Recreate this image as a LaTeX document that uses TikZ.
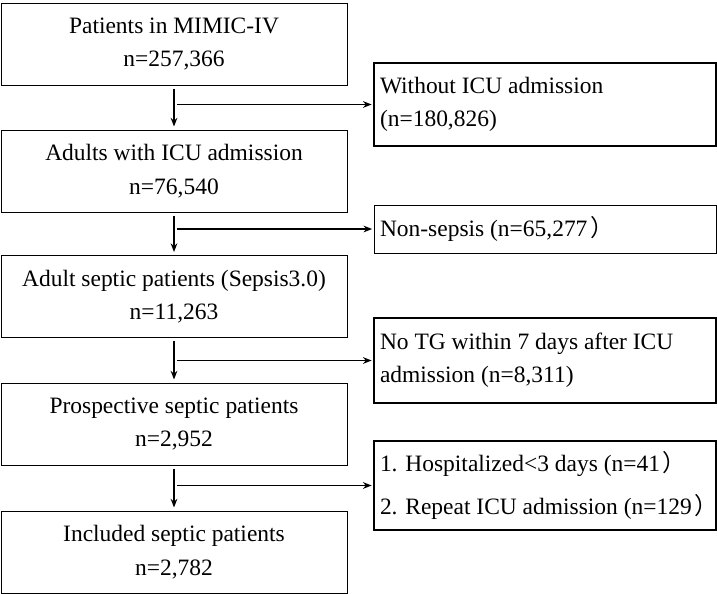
\documentclass[tikz,border=0pt]{standalone}
\usepackage{fontspec}
\setmainfont{Liberation Serif}
\newfontfamily\cjk{Noto Sans CJK SC}
\usetikzlibrary{arrows.meta}
\newcommand{\fwrpar}{\hspace{2pt}\makebox[6pt][l]{\cjk ）}}

\begin{document}
\begin{tikzpicture}[x=0.75pt, y=-0.75pt, line width=0.75pt,
  font=\fontsize{17.6}{25}\selectfont,
  mainbox/.style={draw, rectangle, minimum width=259.5pt, minimum height=61.5pt,
    align=center, inner sep=0pt},
  sidebox/.style={draw, rectangle, line width=1.5pt, minimum width=256.5pt,
    text width=247.5pt, align=flush left, inner xsep=4.5pt, inner ysep=0pt},
  arr/.style={-{Stealth[length=6.5pt,width=5pt]}, line width=1.3pt}]
  \useasboundingbox (0,0) rectangle (717,593);
  % main column
  \node[mainbox] (b1) at (174,44)    {Patients in MIMIC-IV\\n=257,366};
  \node[mainbox] (b2) at (174,171)   {Adults with ICU admission\\n=76,540};
  \node[mainbox] (b3) at (174,296.5) {Adult septic patients (Sepsis3.0)\\n=11,263};
  \node[mainbox] (b4) at (174,424)   {Prospective septic patients\\n=2,952};
  \node[mainbox] (b5) at (174,552)   {Included septic patients\\n=2,782};
  % excluded boxes
  \node[sidebox, minimum height=62.25pt] (r1) at (545,104.5)
    {Without ICU admission\\(n=180,826)};
  \node[sidebox, line width=0.75pt, minimum height=36pt] (r2) at (545,229)
    {Non-sepsis (n=65,277\fwrpar};
  \node[sidebox, minimum height=63.75pt] (r3) at (545,360.5)
    {No TG within 7 days after ICU\\admission (n=8,311)};
  \node[sidebox, minimum height=66.75pt, font=\fontsize{17.6}{32}\selectfont] (r4) at (545,485.5)
    {1. Hospitalized<3 days (n=41\fwrpar\\2. Repeat ICU admission (n=129\fwrpar};
  % downward arrows
  \foreach \a/\b in {b1/b2, b2/b3, b3/b4, b4/b5}{
    \draw[arr, shorten <=2.25pt, shorten >=2.25pt] (\a.south) -- (\b.north);
  }
  % side arrows
  \foreach \a/\r in {b1/r1, b2/r2, b3/r3, b4/r4}{
    \coordinate (s\r) at ([xshift=2.5pt]\a.south |- \r.west);
    \draw[arr, shorten >=1pt] (s\r) -- (\r.west);
  }
\end{tikzpicture}
\end{document}
